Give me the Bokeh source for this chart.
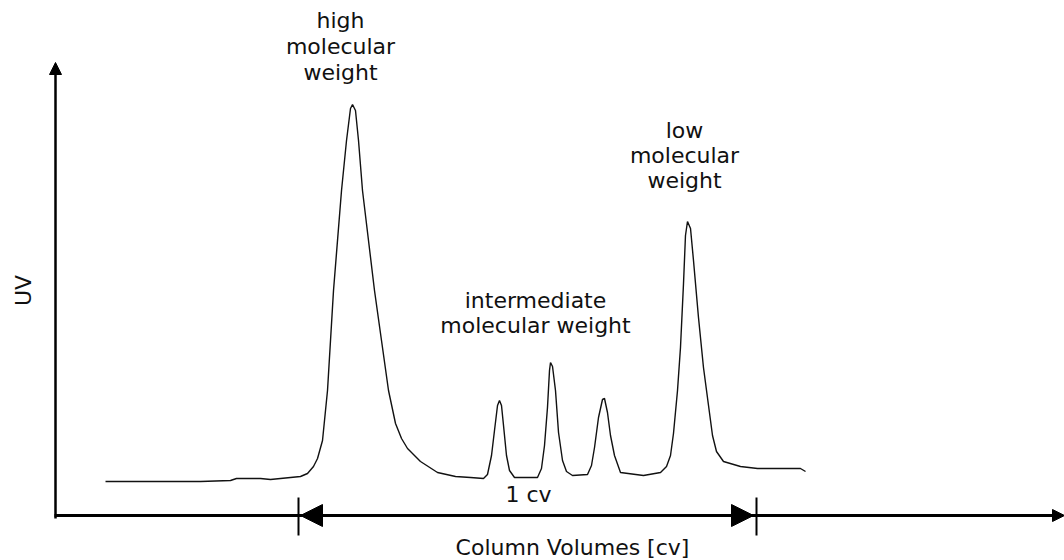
import math
from bokeh.plotting import figure
from bokeh.models import Range1d, Arrow, NormalHead, ColumnDataSource
from bokeh.core.properties import value
from bokeh.embed import file_html
from bokeh.resources import INLINE

# ---- data: UV trace (x in column volumes, y in arbitrary UV units)
cv = [0.1092, 0.2074, 0.3166, 0.3821, 0.3952, 0.4476, 0.4694, 0.5131, 0.5349, 0.5502,
      0.5633, 0.5721, 0.5830, 0.5939, 0.6070, 0.6245, 0.6354, 0.6441, 0.6485, 0.6550,
      0.6616, 0.6703, 0.6834, 0.6965, 0.7118, 0.7271, 0.7424, 0.7555, 0.7686, 0.7969,
      0.8341, 0.8734, 0.9061, 0.9345, 0.9432, 0.9520, 0.9585, 0.9651, 0.9694, 0.9738,
      0.9782, 0.9847, 0.9913, 1.0022, 1.0524, 1.0611, 1.0677, 1.0742, 1.0786, 1.0808,
      1.0852, 1.0917, 1.0983, 1.1070, 1.1157, 1.1288, 1.1616, 1.1703, 1.1769, 1.1856,
      1.1943, 1.1987, 1.2052, 1.2118, 1.2205, 1.2336, 1.2838, 1.3210, 1.3341, 1.3428,
      1.3493, 1.3581, 1.3646, 1.3712, 1.3755, 1.3799, 1.3865, 1.3930, 1.4039, 1.4148,
      1.4258, 1.4345, 1.4432, 1.4585, 1.4956, 1.5328, 1.5830, 1.6266, 1.6376]
uv = [34, 34, 34, 35, 37, 37, 36, 38, 39, 42,
      49, 57, 75, 125, 225, 325, 375, 407, 411, 405,
      375, 325, 275, 225, 175, 125, 92, 77, 67, 54,
      43, 39, 38, 37, 41, 60, 85, 110, 115, 110,
      90, 60, 45, 38, 38, 47, 70, 108, 145, 153,
      149, 125, 83, 55, 44, 40, 41, 50, 68, 98,
      116, 117, 103, 80, 60, 43, 40, 43, 49, 60,
      82, 125, 168, 232, 280, 294, 287, 255, 198, 148,
      110, 80, 64, 54, 49, 47, 47, 47, 44]

# annotation texts
peak_labels = [["high", "molecular", "weight"],
               ["intermediate", "molecular weight"],
               ["low", "molecular", "weight"]]
span_label = "1 cv"
x_title = "Column Volumes [cv]"
y_title = "UV"

# ---- layout constants (pixels of the 1064x560 reference -> data units)
PX_PER_CV = 458.0
ORIGIN_PX = (55.0, 515.0)


def dx(px):
    return (px - ORIGIN_PX[0]) / PX_PER_CV


def dy(py):
    return ORIGIN_PX[1] - py


W, H = 1064, 560
p = figure(width=W, height=H,
           x_range=Range1d(dx(0), dx(W)), y_range=Range1d(dy(H), dy(0)),
           output_backend="svg", toolbar_location=None,
           x_axis_location=None, y_axis_location=None, min_border=0)
p.grid.visible = False
p.outline_line_color = None
p.background_fill_color = "white"

# trace
p.line(cv, uv, line_color="#111111", line_width=1.4)

# axes with arrow heads
p.add_layout(Arrow(end=NormalHead(size=12, fill_color="black", line_color="black"),
                   x_start=0, y_start=dy(518), x_end=0, y_end=dy(62),
                   line_width=2.5, line_color="black"))
p.add_layout(Arrow(end=NormalHead(size=12, fill_color="black", line_color="black"),
                   x_start=dx(54), y_start=0, x_end=dx(W), y_end=0,
                   line_width=3, line_color="black"))

# 1 column volume span
cv_start = dx(298)
cv_end = cv_start + 1.0
p.segment(x0=[cv_start, cv_end], y0=[dy(535), dy(535)], x1=[cv_start, cv_end], y1=[dy(497), dy(497)],
          line_color="black", line_width=2)
p.add_layout(Arrow(start=NormalHead(size=22, fill_color="black", line_color="black"),
                   end=NormalHead(size=22, fill_color="black", line_color="black"),
                   x_start=cv_start + 2 / PX_PER_CV, y_start=0, x_end=cv_end - 3 / PX_PER_CV, y_end=0,
                   line_width=3, line_color="black"))

FONT = value("DejaVu Sans")
FS = value("22px")

# label line centres (reference pixels)
centers = [(340, [20, 46, 72]), (535, [300, 325]), (684, [130, 155, 180])]
tx, ty, tt = [], [], []
for (cx, rows), lines in zip(centers, peak_labels):
    for r, s in zip(rows, lines):
        tx.append(dx(cx)); ty.append(dy(r)); tt.append(s)
tx.append(dx(528)); ty.append(dy(494)); tt.append(span_label)
tx.append(dx(572)); ty.append(dy(547)); tt.append(x_title)
src = ColumnDataSource(dict(x=tx, y=ty, text=tt))
p.text(x="x", y="y", text="text", source=src, text_font=FONT, text_font_size=FS,
       text_align="center", text_baseline="alphabetic", text_color="#111111")

p.text(x=[dx(23)], y=[dy(290)], text=[y_title], angle=math.pi / 2, text_font=FONT, text_font_size=FS,
       text_align="center", text_baseline="middle", text_color="#111111")

open("out.html", "w").write(file_html(p, INLINE))
